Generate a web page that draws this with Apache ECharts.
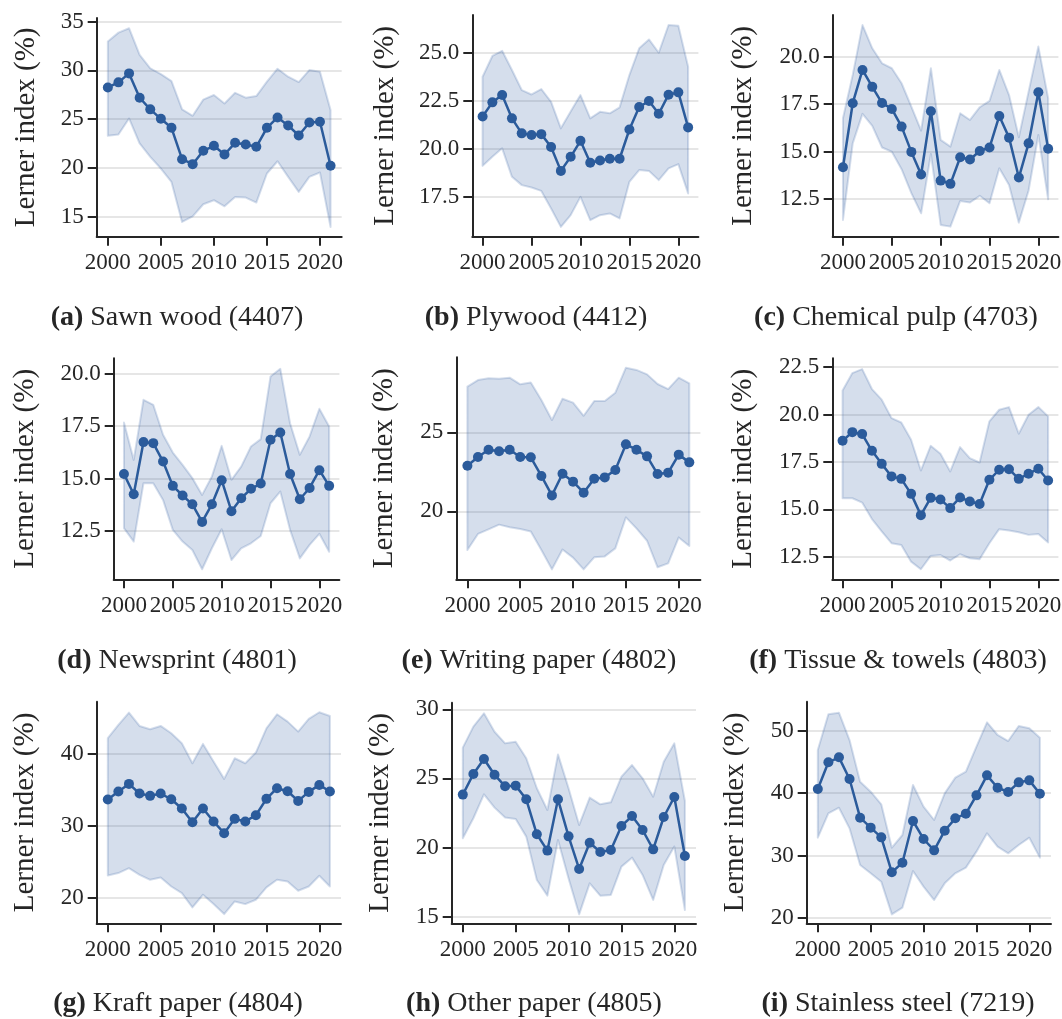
<!DOCTYPE html>
<html><head><meta charset="utf-8">
<script src="https://cdn.jsdelivr.net/npm/echarts@6/dist/echarts.min.js"></script>
<style>html,body{margin:0;padding:0;background:#fff}#c{width:1062px;height:1019px}</style>
</head><body><div id="c"></div>
<script>
// ---------------- DATA ----------------
const years = [2000,2001,2002,2003,2004,2005,2006,2007,2008,2009,2010,2011,2012,2013,2014,2015,2016,2017,2018,2019,2020,2021];
const xTickValues = [2000,2005,2010,2015,2020];
const xTickLabels = ['2000','2005','2010','2015','2020'];

const captionLetters = ['(a)','(b)','(c)','(d)','(e)','(f)','(g)','(h)','(i)'];
const captionNames = ['Sawn wood (4407)','Plywood (4412)','Chemical pulp (4703)','Newsprint (4801)','Writing paper (4802)','Tissue & towels (4803)','Kraft paper (4804)','Other paper (4805)','Stainless steel (7219)'];
const yAxisTitle = 'Lerner index (%)';

const sawnMean = [28.25,28.77,29.69,27.19,26.0,25.03,24.11,20.89,20.38,21.75,22.26,21.37,22.57,22.4,22.16,24.11,25.17,24.35,23.32,24.66,24.73,20.21];
const sawnLow  = [23.29,23.42,25.07,22.5,21.13,19.93,18.56,14.45,15.03,16.27,16.68,16.06,17.02,16.95,16.44,19.42,20.68,19.08,17.53,19.08,19.52,13.94];
const sawnHigh = [32.95,33.87,34.32,31.58,30.21,29.62,28.9,26.0,25.34,27.0,27.47,26.6,27.7,27.2,27.36,28.84,30.17,29.35,28.8,30.03,29.86,25.92];
const sawnTicks = [15,20,25,30,35];
const sawnTickLabels = ['15','20','25','30','35'];

const plyMean = [21.69,22.42,22.8,21.59,20.81,20.72,20.77,20.1,18.86,19.59,20.42,19.28,19.4,19.49,19.49,21.01,22.18,22.49,21.83,22.82,22.94,21.12];
const plyLow  = [19.12,19.59,20.03,18.55,18.12,18.0,17.82,16.91,15.95,16.56,17.51,16.3,16.56,16.65,16.39,18.29,18.9,18.86,18.38,18.99,19.21,17.69];
const plyHigh = [23.75,24.83,25.1,24.1,23.06,22.83,23.11,22.45,21.07,21.94,22.8,21.59,21.93,21.85,22.16,23.84,25.23,25.69,25.0,26.44,26.4,24.27];
const plyTicks = [17.5,20,22.5,25];
const plyTickLabels = ['17.5','20.0','22.5','25.0'];

const pulpMean = [14.18,17.55,19.3,18.41,17.56,17.25,16.32,14.99,13.8,17.13,13.48,13.31,14.71,14.59,15.04,15.22,16.88,15.74,13.64,15.44,18.13,15.16];
const pulpLow  = [11.41,15.44,16.99,16.36,15.22,15.0,14.08,12.82,11.76,14.88,11.15,11.06,12.41,12.33,12.68,12.29,14.13,13.25,11.27,12.96,15.88,12.5];
const pulpHigh = [16.76,19.04,21.66,20.44,19.65,19.39,18.6,17.37,16.11,19.39,15.62,15.27,17.02,16.67,17.34,17.67,19.3,17.98,15.76,18.16,20.53,17.81];
const pulpTicks = [12.5,15,17.5,20];
const pulpTickLabels = ['12.5','15.0','17.5','20.0'];

const newsMean = [15.22,14.25,16.74,16.69,15.81,14.65,14.19,13.77,12.93,13.77,14.92,13.44,14.06,14.51,14.76,16.85,17.2,15.22,14.01,14.55,15.4,14.65];
const newsLow  = [12.63,11.99,14.78,14.78,13.98,12.55,11.99,11.59,10.67,11.67,12.58,11.11,11.67,11.91,12.26,13.82,14.38,12.55,11.19,11.83,12.36,11.51];
const newsHigh = [17.68,15.89,18.76,18.52,17.09,16.24,15.65,15.02,14.22,15.1,16.56,14.94,15.57,16.53,16.88,19.87,20.24,17.64,16.13,17.01,18.33,17.48];
const newsTicks = [12.5,15,17.5,20];
const newsTickLabels = ['12.5','15.0','17.5','20.0'];

const writeMean = [22.89,23.44,23.9,23.8,23.9,23.44,23.42,22.24,21.01,22.38,21.88,21.18,22.07,22.15,22.62,24.24,23.9,23.48,22.36,22.45,23.59,23.1];
const writeLow  = [17.55,18.57,18.86,19.16,18.99,18.88,18.73,17.55,16.33,17.59,17.07,16.33,17.09,17.15,17.66,19.62,18.92,18.14,16.46,16.71,18.35,17.81];
const writeHigh = [27.89,28.31,28.42,28.4,28.46,28.04,28.16,27.05,25.78,27.13,26.88,26.05,26.98,26.98,27.51,29.09,28.95,28.67,28.06,27.74,28.46,28.1];
const writeTicks = [20,25];
const writeTickLabels = ['20','25'];

const tissueMean = [18.62,19.07,18.97,18.09,17.4,16.74,16.61,15.82,14.7,15.61,15.52,15.07,15.63,15.42,15.29,16.56,17.09,17.12,16.61,16.88,17.14,16.52];
const tissueLow  = [15.59,15.59,15.36,14.49,13.84,13.22,13.13,12.25,11.85,12.55,12.6,12.31,12.64,12.43,12.38,13.22,13.96,13.89,13.8,13.66,13.71,13.26];
const tissueHigh = [21.27,22.18,22.39,21.34,20.78,19.81,19.58,18.67,17.05,18.35,17.93,17.0,18.28,17.7,17.47,19.64,20.25,20.39,18.99,19.99,20.39,19.9];
const tissueTicks = [12.5,15,17.5,20,22.5];
const tissueTickLabels = ['12.5','15.0','17.5','20.0','22.5'];

const kraftMean = [33.66,34.77,35.83,34.49,34.17,34.49,33.7,32.41,30.51,32.41,30.6,28.98,30.97,30.6,31.48,33.75,35.23,34.81,33.47,34.72,35.69,34.77];
const kraftLow  = [23.1,23.43,24.12,23.19,22.5,22.82,21.57,20.65,18.66,20.42,19.12,17.73,19.49,19.12,19.72,21.44,22.5,22.27,20.97,21.57,23.06,21.57];
const kraftHigh = [42.18,44.03,45.74,43.89,43.43,43.89,42.87,41.48,38.7,41.39,38.94,36.53,39.4,38.7,40.19,43.56,45.51,44.49,43.1,44.86,45.79,45.28];
const kraftTicks = [20,30,40];
const kraftTickLabels = ['20','30','40'];

const otherMean = [23.83,25.32,26.41,25.27,24.43,24.48,23.49,20.96,19.78,23.49,20.81,18.45,20.35,19.68,19.82,21.56,22.28,21.27,19.87,22.21,23.66,19.39];
const otherLow  = [20.67,22.12,23.85,22.89,22.17,22.07,20.79,17.65,16.52,20.55,17.77,15.17,17.41,16.52,16.57,18.62,19.27,18.02,16.21,18.74,20.07,15.48];
const otherHigh = [27.23,28.75,29.71,28.38,27.54,27.66,26.46,24.29,22.72,26.74,24.29,21.63,23.61,23.13,23.27,25.13,25.97,25.01,23.68,26.21,27.54,23.37];
const otherTicks = [15,20,25,30];
const otherTickLabels = ['15','20','25','30'];

const steelMean = [40.68,44.97,45.77,42.29,36.07,34.47,32.91,27.29,28.84,35.54,32.65,30.82,33.98,35.97,36.72,39.66,42.88,40.89,40.2,41.75,42.07,39.93];
const steelLow  = [32.86,36.77,37.68,34.36,28.47,27.13,25.79,20.54,21.61,27.5,24.99,22.84,25.52,27.13,28.04,30.61,33.56,31.41,30.34,31.68,32.86,29.65];
const steelHigh = [46.95,52.68,52.95,48.55,41.86,40.25,38.22,31.25,33.29,41.32,37.84,35.7,39.98,42.5,43.47,47.48,51.39,49.36,48.39,50.8,50.43,48.93];
const steelTicks = [20,30,40,50];
const steelTickLabels = ['20','30','40','50'];

// ---------------- LAYOUT / STYLE ----------------
const panels = [
  {mean: sawnMean,   low: sawnLow,   high: sawnHigh,   ticks: sawnTicks,   tickLabels: sawnTickLabels,   yMin: 12.94, yMax: 35.37},
  {mean: plyMean,    low: plyLow,    high: plyHigh,    ticks: plyTicks,    tickLabels: plyTickLabels,    yMin: 15.44, yMax: 26.96},
  {mean: pulpMean,   low: pulpLow,   high: pulpHigh,   ticks: pulpTicks,   tickLabels: pulpTickLabels,   yMin: 10.53, yMax: 22.19},
  {mean: newsMean,   low: newsLow,   high: newsHigh,   ticks: newsTicks,   tickLabels: newsTickLabels,   yMin: 10.19, yMax: 20.74},
  {mean: writeMean,  low: writeLow,  high: writeHigh,  ticks: writeTicks,  tickLabels: writeTickLabels,  yMin: 15.70, yMax: 29.75},
  {mean: tissueMean, low: tissueLow, high: tissueHigh, ticks: tissueTicks, tickLabels: tissueTickLabels, yMin: 11.32, yMax: 22.96},
  {mean: kraftMean,  low: kraftLow,  high: kraftHigh,  ticks: kraftTicks,  tickLabels: kraftTickLabels,  yMin: 16.45, yMax: 47.26},
  {mean: otherMean,  low: otherLow,  high: otherHigh,  ticks: otherTicks,  tickLabels: otherTickLabels,  yMin: 14.52, yMax: 30.48},
  {mean: steelMean,  low: steelLow,  high: steelHigh,  ticks: steelTicks,  tickLabels: steelTickLabels,  yMin: 19.10, yMax: 54.71}
];
const gridBoxes = [
  [96.7, 18, 245, 218.7], [472.3, 15, 226.1, 221.7], [832.7, 15, 225.7, 221.7],
  [113.7, 358.3, 225.7, 221], [456.3, 357.3, 244.1, 222], [832.3, 358.3, 226.1, 221],
  [96.7, 701.7, 244.3, 221.6], [451.7, 702.7, 244.3, 220.6], [806.7, 701.7, 244.3, 221.6]
];
const nameCenters = [26, 385, 743.5, 25, 384.5, 743.5, 25, 380, 735];
const captionPos = [[177, 318], [536, 318], [896, 318], [177, 661], [539, 661], [898, 661], [178, 1004], [534, 1004], [898, 1004]];

const FONT = 'Liberation Serif';
const INK = '#262626';
const LINE = '#2b5b9b';
const BAND_FILL = 'rgba(44,90,160,0.2)';
const BAND_EDGE = 'rgba(44,90,160,0.2)';
const TICK_FS = 23, NAME_FS = 29, CAP_FS = 28;

const grid = [], xAxis = [], yAxis = [], series = [], graphic = [];
panels.forEach((p, i) => {
  const g = gridBoxes[i];
  grid.push({left: g[0], top: g[1], width: g[2], height: g[3], containLabel: false, outerBoundsMode: 'none'});
  xAxis.push({
    type: 'value', gridIndex: i, min: 1998.95, max: 2022.05,
    axisLine: {show: true, lineStyle: {color: INK, width: 2}},
    axisTick: {show: true, length: 9, lineStyle: {color: INK, width: 2}, customValues: xTickValues},
    axisLabel: {customValues: xTickValues, margin: 15, fontFamily: FONT, fontSize: TICK_FS, color: INK,
      formatter: v => xTickLabels[xTickValues.indexOf(v)]},
    splitLine: {show: false}
  });
  const nameGap = g[0] - nameCenters[i] - NAME_FS / 2;
  yAxis.push({
    type: 'value', gridIndex: i, min: p.yMin, max: p.yMax,
    name: yAxisTitle, nameLocation: 'middle', nameGap: nameGap,
    nameTextStyle: {fontFamily: FONT, fontSize: NAME_FS, color: INK},
    axisLine: {show: true, lineStyle: {color: INK, width: 2}},
    axisTick: {show: true, length: 9, lineStyle: {color: INK, width: 2}, customValues: p.ticks},
    axisLabel: {customValues: p.ticks, margin: 13, fontFamily: FONT, fontSize: TICK_FS, color: INK,
      formatter: v => p.tickLabels[p.ticks.indexOf(v)]},
    splitLine: {show: true, lineStyle: {color: '#dedede', width: 1.5}}
  });
  series.push({
    type: 'custom', xAxisIndex: i, yAxisIndex: i, silent: true, z: 1,
    data: years.map((y, j) => [y, p.low[j], p.high[j]]),
    encode: {x: 0, y: [1, 2]},
    renderItem: (params, api) => {
      if (params.dataIndex !== 0) return null;
      const pts = [];
      for (let j = 0; j < years.length; j++) pts.push(api.coord([years[j], p.high[j]]));
      for (let j = years.length - 1; j >= 0; j--) pts.push(api.coord([years[j], p.low[j]]));
      return {type: 'polygon', shape: {points: pts}, style: {fill: BAND_FILL, stroke: BAND_EDGE, lineWidth: 2, lineJoin: 'round'}};
    }
  });
  series.push({
    type: 'line', xAxisIndex: i, yAxisIndex: i, z: 3,
    data: years.map((y, j) => [y, p.mean[j]]),
    symbol: 'circle', symbolSize: 10, showSymbol: true,
    lineStyle: {color: LINE, width: 2.5}, itemStyle: {color: LINE, borderWidth: 0},
    emphasis: {disabled: true}, animation: false
  });
  graphic.push({
    type: 'text', x: captionPos[i][0], y: captionPos[i][1],
    style: {
      text: '{b|' + captionLetters[i] + '} ' + captionNames[i],
      fontFamily: FONT, fontSize: CAP_FS, fill: INK, align: 'center', verticalAlign: 'middle',
      rich: {b: {fontFamily: FONT, fontSize: CAP_FS, fontWeight: 'bold', fill: INK}}
    }
  });
});

const chart = echarts.init(document.getElementById('c'), null, {renderer: 'canvas'});
chart.setOption({animation: false, backgroundColor: '#ffffff', grid, xAxis, yAxis, series, graphic});
</script></body></html>
